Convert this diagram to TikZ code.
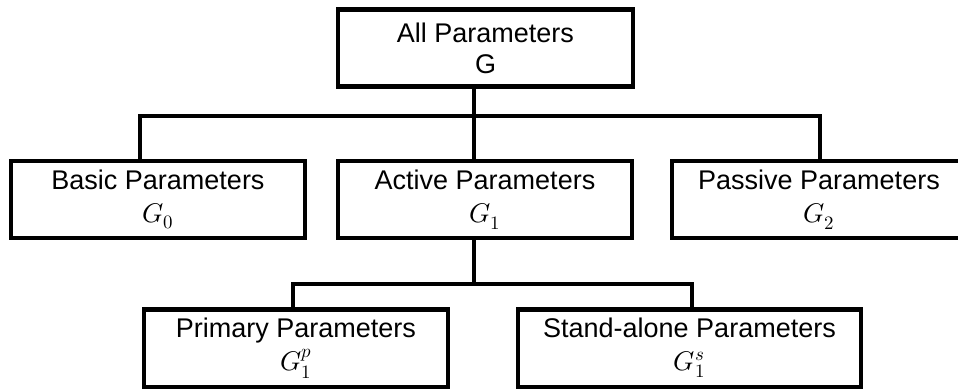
\documentclass[tikz,border=0pt]{standalone}
\usepackage{fontspec}
\usepackage{unicode-math}
\setmainfont{Liberation Sans}
\setmathfont{Latin Modern Math}
\begin{document}
\begin{tikzpicture}[x=1pt,y=1pt,
  box/.style={draw, line width=4.5pt, minimum height=77pt, align=center, inner sep=0pt,
    font=\fontsize{27}{31}\selectfont},
  conn/.style={line width=4.5pt}]
\useasboundingbox (0,0) rectangle (958,-390);
\clip (0,0) rectangle (958,-390);
\node[box, minimum width=295pt] (top) at (485.5,-48) {All Parameters\\G};
\node[box, minimum width=294pt] (basic) at (158,-199.5) {Basic Parameters\\[2pt]$G_0$};
\node[box, minimum width=294pt] (act) at (485,-199.5) {Active Parameters\\[2pt]$G_1$};
\node[box, minimum width=294pt] (pass) at (819,-199.5) {Passive Parameters\\[2pt]$G_2$};
\node[box, minimum width=304pt, minimum height=77.5pt] (prim) at (296,-348) {Primary Parameters\\[2pt]$G_1^p$};
\node[box, minimum width=343pt, minimum height=77.5pt] (stand) at (689.5,-348) {Stand-alone Parameters\\[2pt]$G_1^s$};
\coordinate (busL) at (140,-116);
\coordinate (busR) at (820,-116);
\coordinate (busBL) at (293,-284);
\coordinate (busBR) at (692,-284);
\draw[conn] ([xshift=-11.5pt]top.south) -- ([xshift=-11pt]act.north);
\draw[conn] (basic.north -| busL) -- (busL) -- (busR) -- (pass.north -| busR);
\draw[conn] ([xshift=-11pt]act.south) -- ([xshift=-11pt]act.south |- busBL);
\draw[conn] (prim.north -| busBL) -- (busBL) -- (busBR) -- (stand.north -| busBR);
\end{tikzpicture}
\end{document}
